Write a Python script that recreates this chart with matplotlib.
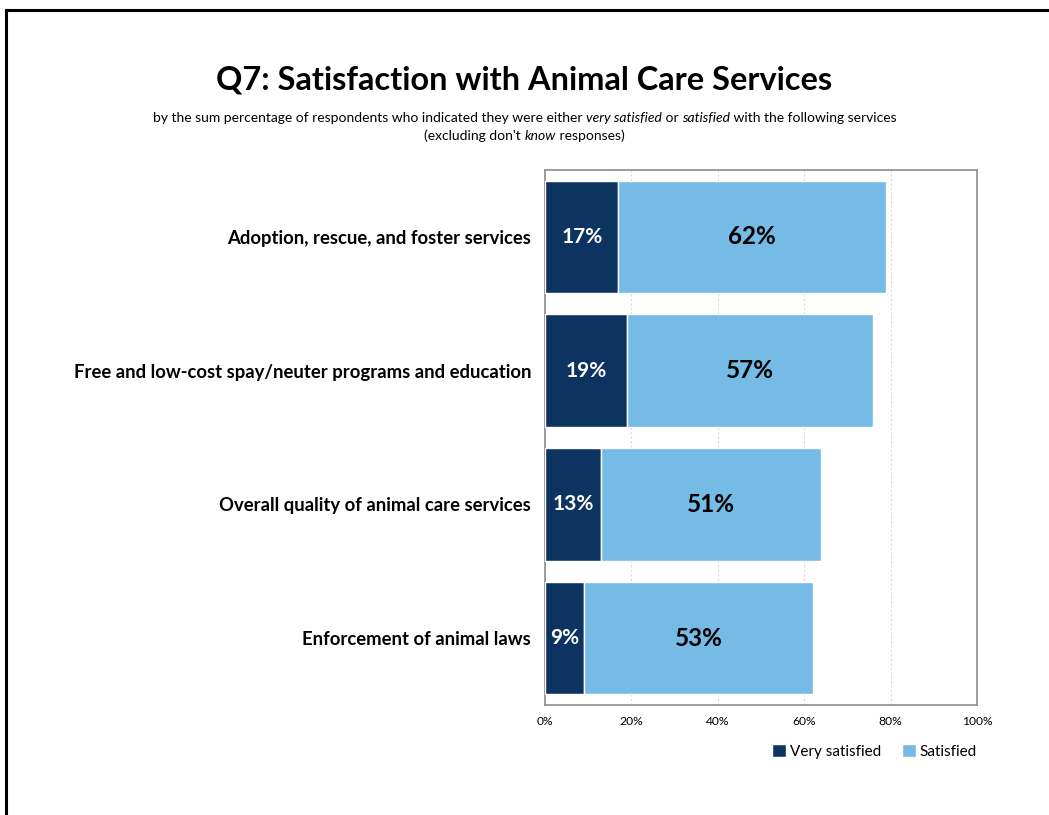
import matplotlib
matplotlib.use("Agg")
import matplotlib.pyplot as plt
from matplotlib.patches import Rectangle
from matplotlib.ticker import PercentFormatter

FONT = "Lato"
plt.rcParams["font.family"] = [FONT, "DejaVu Sans"]

categories = [
    "Adoption, rescue, and foster services",
    "Free and low-cost spay/neuter programs and education",
    "Overall quality of animal care services",
    "Enforcement of animal laws",
]
very_satisfied = [17, 19, 13, 9]
satisfied = [62, 57, 51, 53]
x_ticks = [0, 20, 40, 60, 80, 100]

DARK = "#0d3461"
LIGHT = "#75bbe5"

fig = plt.figure(figsize=(10.49, 8.15), dpi=100)
W, H = 1049, 815

# open outer frame
fig.add_artist(Rectangle((6 / W, -0.1), 1.2, 1.1 - 10 / H,
                         transform=fig.transFigure, fill=False,
                         edgecolor="black", linewidth=2.2))

ax = fig.add_axes([545 / W, 1 - 705 / H, 432 / W, 535 / H])
y = list(range(len(categories)))
h = 0.84
ax.barh(y, very_satisfied, height=h, color=DARK, edgecolor="white", linewidth=1, zorder=3)
ax.barh(y, satisfied, left=very_satisfied, height=h, color=LIGHT,
        edgecolor="white", linewidth=1, zorder=3)

for i in y:
    ax.text(very_satisfied[i] / 2, i, f"{very_satisfied[i]}%", ha="center", va="center",
            color="white", fontsize=15, fontweight="bold", zorder=4)
    ax.text(very_satisfied[i] + satisfied[i] / 2, i, f"{satisfied[i]}%", ha="center",
            va="center", color="black", fontsize=17.5, fontweight="bold", zorder=4)

ax.set_xlim(0, 100)
ax.set_ylim(len(categories) - 0.5, -0.5)
ax.set_xticks(x_ticks)
ax.xaxis.set_major_formatter(PercentFormatter(decimals=0))
ax.tick_params(axis="x", length=0, labelsize=8.7, pad=8)
ax.set_yticks(y)
ax.set_yticklabels(categories, fontsize=13.3, fontweight="bold")
ax.tick_params(axis="y", length=0, pad=10)
ax.grid(axis="x", color="#d9d9d9", linestyle=(0, (2, 2)), linewidth=0.8, zorder=0)
for s in ax.spines.values():
    s.set_color("#8c8c8c")
    s.set_linewidth(1.2)

leg = ax.legend(["Very satisfied", "Satisfied"], loc="upper right",
                bbox_to_anchor=(1.0, -0.073), ncol=2, frameon=False, fontsize=11,
                handlelength=0.9, handleheight=0.9, handletextpad=0.25,
                columnspacing=1.4, borderaxespad=0, borderpad=0)

fig.text(0.5, 1 - 80 / H, "Q7: Satisfaction with Animal Care Services",
         ha="center", va="center", fontsize=23.4, fontweight="bold")


def rich_line(y_px, parts, size):
    """Draw a centred line made of plain and italic pieces."""
    fig.canvas.draw()
    r = fig.canvas.get_renderer()
    objs = []
    for txt, style in parts:
        t = fig.text(0, 1 - y_px / H, txt, fontsize=size, style=style,
                     ha="left", va="baseline")
        objs.append(t)
    widths = [o.get_window_extent(renderer=r).width for o in objs]
    total = sum(widths)
    x = (W - total) / 2
    for o, w in zip(objs, widths):
        o.set_x(x / W)
        x += w


rich_line(122, [("by the sum percentage of respondents who indicated they were either ", "normal"),
                ("very satisfied", "italic"), (" or ", "normal"),
                ("satisfied", "italic"),
                (" with the following services", "normal")], 10)
rich_line(140, [("(excluding don't ", "normal"), ("know", "italic"),
                (" responses)", "normal")], 10)

fig.savefig("out.png", dpi=100)
